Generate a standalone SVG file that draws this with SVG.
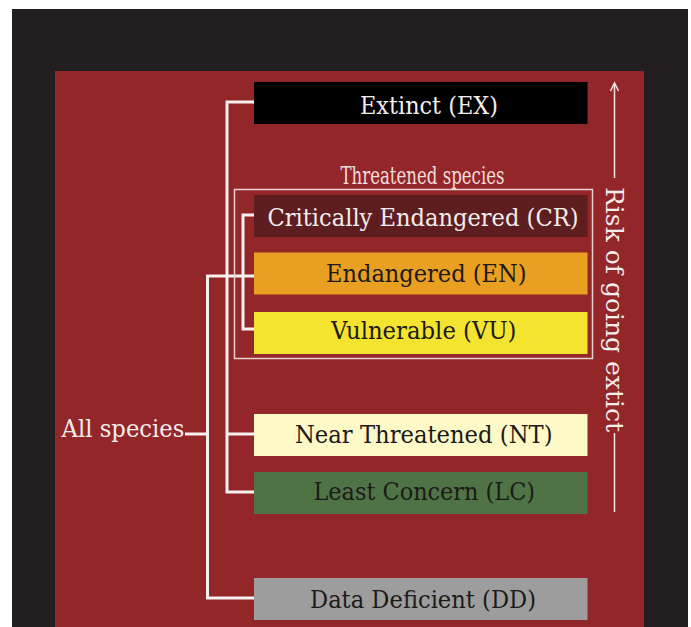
<svg xmlns="http://www.w3.org/2000/svg" width="691" height="627" viewBox="0 0 691 627">
  <style>
    .lbl { font-family: "DejaVu Serif", "Liberation Serif", serif; font-size: 25px; }
    .light { fill: #f3ecec; }
    .dark { fill: #1c1a1a; }
    .conn { fill: none; stroke: #f6f0f0; stroke-width: 3; }
    .risk { fill: none; stroke: #f3e6e6; stroke-width: 1.5; }
  </style>
  <rect x="0" y="0" width="691" height="627" fill="#ffffff"/>
  <rect x="12" y="9" width="676" height="618" fill="#231f20"/>
  <rect x="55" y="71" width="589" height="556" fill="#922628"/>

  <g id="connectors">
    <path class="conn" d="M254,102 H227 V492 H254"/>
    <path class="conn" d="M227,434 H254"/>
    <path class="conn" d="M254,276 H207.5 V598 H254"/>
    <path class="conn" d="M185,434 H207.5"/>
    <path class="conn" d="M254,215 H243 V329 H254"/>
    <path class="risk" d="M614.5,178 V84"/>
    <path class="risk" d="M610.5,91 L614.5,83 L618.5,91"/>
    <path class="risk" d="M614.5,433 V512"/>
  </g>

  <g id="threatened">
    <rect x="234.5" y="189.5" width="358" height="169" fill="none" stroke="#ead0d0" stroke-width="1.5"/>
    <text class="lbl" x="340.5" y="184" font-size="17.5" fill="#f2dcdc" textLength="164" lengthAdjust="spacingAndGlyphs">Threatened species</text>
  </g>

  <g id="ex">
    <rect x="254" y="82" width="333.5" height="42" fill="#000000"/>
    <text class="lbl light" x="360" y="113.5" textLength="138" lengthAdjust="spacingAndGlyphs">Extinct (EX)</text>
  </g>
  <g id="cr">
    <rect x="254" y="195" width="333.5" height="42" fill="#5e1e20"/>
    <text class="lbl light" x="267.5" y="225.5" textLength="311" lengthAdjust="spacingAndGlyphs">Critically Endangered (CR)</text>
  </g>
  <g id="en">
    <rect x="254" y="252.5" width="333.5" height="42" fill="#e99f22"/>
    <text class="lbl dark" x="326" y="281.5" textLength="200.5" lengthAdjust="spacingAndGlyphs">Endangered (EN)</text>
  </g>
  <g id="vu">
    <rect x="254" y="312" width="333.5" height="42" fill="#f5e42f"/>
    <text class="lbl dark" x="331" y="338.5" textLength="185.5" lengthAdjust="spacingAndGlyphs">Vulnerable (VU)</text>
  </g>
  <g id="nt">
    <rect x="254" y="414" width="333.5" height="42" fill="#fef9c6"/>
    <text class="lbl dark" x="295" y="442.5" textLength="257.5" lengthAdjust="spacingAndGlyphs">Near Threatened (NT)</text>
  </g>
  <g id="lc">
    <rect x="254" y="472" width="333.5" height="42" fill="#507345"/>
    <text class="lbl dark" x="313.5" y="500" textLength="221.5" lengthAdjust="spacingAndGlyphs">Least Concern (LC)</text>
  </g>
  <g id="dd">
    <rect x="254" y="578" width="333.5" height="42" fill="#9d9d9d"/>
    <text class="lbl dark" x="310" y="607.5" textLength="226" lengthAdjust="spacingAndGlyphs">Data Deficient (DD)</text>
  </g>
  <g id="all">
    <text class="lbl light" x="61.5" y="437" textLength="123" lengthAdjust="spacingAndGlyphs">All species</text>
  </g>
  <g id="risk">
    <text class="lbl light" transform="translate(606,187) rotate(90)" font-size="31" textLength="245" lengthAdjust="spacingAndGlyphs">Risk of going extict</text>
  </g>
</svg>
